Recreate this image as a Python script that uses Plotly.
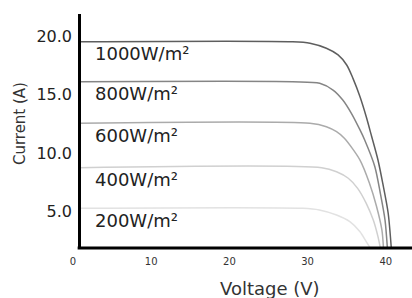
import plotly.graph_objects as go

# ---- data ----
irradiance_labels = ["1000W/m²", "800W/m²", "600W/m²", "400W/m²", "200W/m²"]

voltage_1000 = [0.7, 28.1, 30.3, 32.4, 33.9, 35.0, 35.8, 36.7, 37.5, 38.2, 39.0, 39.6, 40.3, 40.7]
current_1000 = [19.5, 19.5, 19.38, 18.95, 18.38, 17.52, 16.38, 14.81, 13.1, 11.39, 9.4, 7.44, 4.87, 1.88]

voltage_800 = [0.7, 28.1, 31.55, 33.25, 34.5, 35.6, 36.7, 37.3, 38.6, 39.3, 39.9, 40.2]
current_800 = [16.09, 16.09, 15.96, 15.38, 14.53, 13.39, 11.97, 11.11, 8.83, 6.56, 4.27, 1.88]

voltage_600 = [0.7, 30.3, 32.4, 33.7, 34.7, 36.7, 37.9, 38.8, 39.5, 39.7]
current_600 = [12.54, 12.54, 12.25, 11.82, 11.26, 9.4, 7.44, 5.47, 3.42, 1.88]

voltage_400 = [0.7, 31.8, 33.7, 35.2, 36.4, 37.5, 38.4, 39.0, 39.3]
current_400 = [8.74, 8.74, 8.4, 7.84, 6.98, 5.7, 4.27, 2.85, 1.88]

voltage_200 = [0.7, 29.4, 31.5, 33.7, 35.4, 36.7, 37.5, 38.0]
current_200 = [5.27, 5.27, 5.13, 4.7, 4.13, 3.27, 2.42, 1.88]

x_tick_values = [0, 10, 20, 30, 40]
y_tick_values = [5, 10, 15, 20]
y_tick_text = ["5.0", "10.0", "15.0", "20.0"]

# ---- styles ----
line_colors = ["#5e5e5e", "#858585", "#ababab", "#d0d0d0", "#e2e2e2"]
FONT = "DejaVu Sans"

series = [
    (voltage_1000, current_1000),
    (voltage_800, current_800),
    (voltage_600, current_600),
    (voltage_400, current_400),
    (voltage_200, current_200),
]

fig = go.Figure()
for (v, i), name, color in zip(series, irradiance_labels, line_colors):
    fig.add_trace(go.Scatter(
        x=v, y=i, mode="lines", name=name,
        line=dict(color=color, width=1.5, shape="spline", smoothing=0.8),
        showlegend=False, hoverinfo="skip",
    ))
    fig.add_annotation(
        x=2.6, y=i[0], xref="x", yref="y", text=name, showarrow=False,
        xanchor="left", yanchor="middle", yshift=-12,
        font=dict(family=FONT, size=18, color="#222222"),
    )

y_axis_pos = 0.0177

fig.add_annotation(
    x=0.581, y=-0.175, xref="paper", yref="paper", text="Voltage (V)", showarrow=False,
    xanchor="center", yanchor="middle",
    font=dict(family=FONT, size=18, color="#333333"),
)
fig.add_annotation(
    x=-0.156, y=0.53, xref="paper", yref="paper", text="Current (A)", showarrow=False,
    xanchor="center", yanchor="middle", textangle=-90,
    font=dict(family=FONT, size=15, color="#333333"),
)

fig.update_layout(
    width=412, height=298,
    margin=dict(l=73, r=0, t=14, b=50),
    paper_bgcolor="white", plot_bgcolor="white",
    xaxis=dict(
        range=[0, 43.35], tickvals=x_tick_values, ticks="",
        showgrid=False, zeroline=False, showline=False, automargin=False,
        tickfont=dict(family=FONT, size=10, color="#333333"),
        ticklabelstandoff=6,
    ),
    yaxis=dict(
        range=[1.88, 21.88], tickvals=y_tick_values, ticktext=y_tick_text, ticks="",
        showgrid=False, zeroline=False, automargin=False,
        showline=True, linecolor="black", linewidth=2.5,
        anchor="free", position=y_axis_pos,
        tickfont=dict(family=FONT, size=16, color="#222222"),
        ticklabelstandoff=3,
    ),
    shapes=[dict(
        type="line", xref="paper", yref="paper", x0=y_axis_pos - 0.004, x1=1, y0=0, y1=0,
        line=dict(color="black", width=3), layer="above",
    )],
)

fig.write_html(
    "out.html",
    config={"displayModeBar": False},
    post_script="document.body.style.margin='0';document.body.style.overflow='hidden';",
)
